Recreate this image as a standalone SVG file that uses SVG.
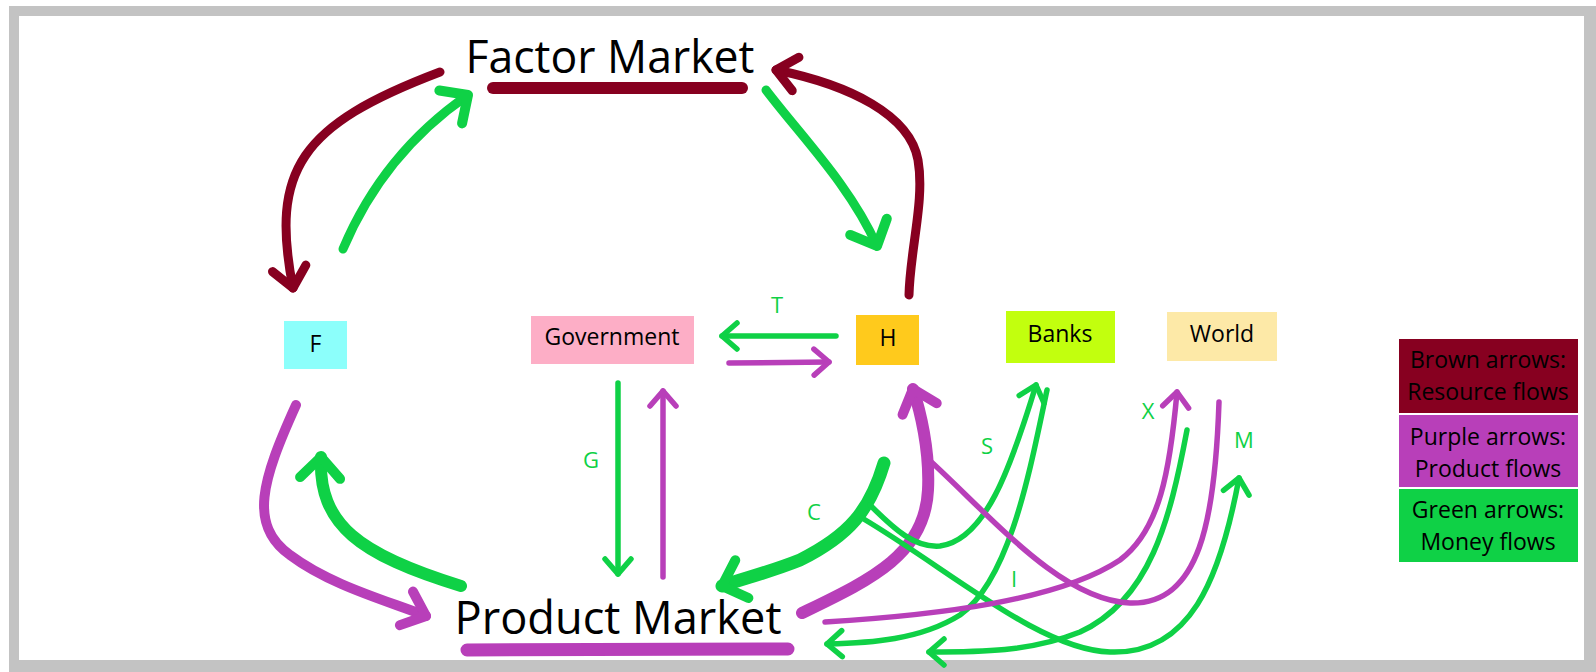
<svg xmlns="http://www.w3.org/2000/svg" width="1596" height="672" viewBox="0 0 1596 672">
<style>
.lbl{font-family:"Open Sans","Noto Sans","Liberation Sans",sans-serif;fill:#000;text-anchor:middle}
.box{font-size:23px}
.ltr{font-family:"Open Sans","Noto Sans","Liberation Sans",sans-serif;font-size:22px;fill:#0fd146;text-anchor:middle}
.leg{font-size:23px}
.c{fill:none;stroke-linecap:round;stroke-linejoin:round}
.br{stroke:#870020}
.gr{stroke:#0fd146}
.pu{stroke:#b83fb9}
.thin{stroke-width:5.5}
</style>
<defs>
<marker id="hB" markerUnits="userSpaceOnUse" viewBox="-30 -30 40 60" markerWidth="40" markerHeight="60" refX="0" refY="0" orient="auto" overflow="visible"><path d="M-20,-17 L0,0 L-20,17" fill="none" stroke="#870020" stroke-width="9" stroke-linecap="round" stroke-linejoin="round"/></marker>
<marker id="hG" markerUnits="userSpaceOnUse" viewBox="-30 -30 40 60" markerWidth="40" markerHeight="60" refX="0" refY="0" orient="auto" overflow="visible"><path d="M-21,-20 L0,0 L-21,20" fill="none" stroke="#0fd146" stroke-width="10" stroke-linecap="round" stroke-linejoin="round"/></marker>
<marker id="hP" markerUnits="userSpaceOnUse" viewBox="-30 -30 40 60" markerWidth="40" markerHeight="60" refX="0" refY="0" orient="auto" overflow="visible"><path d="M-21,-18 L0,0 L-21,18" fill="none" stroke="#b83fb9" stroke-width="10" stroke-linecap="round" stroke-linejoin="round"/></marker>
<marker id="hg" markerUnits="userSpaceOnUse" viewBox="-30 -30 40 60" markerWidth="40" markerHeight="60" refX="0" refY="0" orient="auto" overflow="visible"><path d="M-15,-13 L0,0 L-15,13" fill="none" stroke="#0fd146" stroke-width="5.5" stroke-linecap="round" stroke-linejoin="round"/></marker>
<marker id="hp" markerUnits="userSpaceOnUse" viewBox="-30 -30 40 60" markerWidth="40" markerHeight="60" refX="0" refY="0" orient="auto" overflow="visible"><path d="M-15,-13 L0,0 L-15,13" fill="none" stroke="#b83fb9" stroke-width="5.5" stroke-linecap="round" stroke-linejoin="round"/></marker>
</defs>
<rect x="9" y="6" width="1600" height="680" fill="#c3c3c3"/>
<rect x="19" y="16" width="1565" height="644" fill="#ffffff"/>

<g id="factor-market">
<line x1="493" y1="88" x2="742" y2="88" stroke="#870020" stroke-width="12" stroke-linecap="round"/>
<text class="lbl" x="610" y="73" font-size="46" textLength="289" lengthAdjust="spacingAndGlyphs">Factor Market</text>
</g>
<g id="product-market">
<line x1="467" y1="650" x2="788" y2="649" stroke="#b83fb9" stroke-width="13" stroke-linecap="round"/>
<text class="lbl" x="618" y="634" font-size="46" textLength="327" lengthAdjust="spacingAndGlyphs">Product Market</text>
</g>
<g id="node-f">
<rect x="284" y="321" width="63" height="48" fill="#8cfffb"/>
<text class="lbl box" x="315.5" y="352">F</text>
</g>
<g id="node-government">
<rect x="531" y="316" width="163" height="48" fill="#fdaec6"/>
<text class="lbl box" x="612" y="345">Government</text>
</g>
<g id="node-h">
<rect x="856" y="315" width="63" height="50" fill="#ffca1c"/>
<text class="lbl box" x="888" y="346">H</text>
</g>
<g id="node-banks">
<rect x="1006" y="311" width="109" height="52" fill="#c2ff0e"/>
<text class="lbl box" x="1060" y="342">Banks</text>
</g>
<g id="node-world">
<rect x="1167" y="312" width="110" height="49" fill="#fde9a7"/>
<text class="lbl box" x="1222" y="342">World</text>
</g>

<g id="connectors">
<path class="c br" stroke-width="9" d="M440,72 C300,125 270,170 293,288" marker-end="url(#hB)"/>
<path class="c br" stroke-width="9" d="M909,295 C910,250 925,200 918,160 C910,115 850,85 776,70" marker-end="url(#hB)"/>
<path class="c gr" stroke-width="9" d="M343,249 C370,185 410,135 468,95" marker-end="url(#hG)"/>
<path class="c gr" stroke-width="9" d="M766,90 C800,135 850,185 877,246" marker-end="url(#hG)"/>
<path class="c gr" stroke-width="12" d="M461,586 C360,555 318,525 321,457" marker-end="url(#hG)"/>
<path class="c gr" stroke-width="13" d="M884,463 C870,510 850,535 800,560 C770,572 745,578 722,586" marker-end="url(#hG)"/>
<path class="c pu" stroke-width="10" d="M296,405 C262,480 248,525 290,555 C330,585 385,600 426,616" marker-end="url(#hP)"/>
<path class="c pu" stroke-width="12" d="M802,613 C870,580 925,555 928,490 C930,450 920,410 913,389" marker-end="url(#hP)"/>
<path class="c gr thin" d="M618,383 L618,574" marker-end="url(#hg)"/>
<path class="c gr thin" d="M836,336 L722,336" marker-end="url(#hg)"/>
<path class="c gr thin" d="M870,505 C895,530 915,548 940,546 C985,540 1010,470 1036,385" marker-end="url(#hg)"/>
<path class="c gr thin" d="M862,518 C950,570 1040,650 1110,652 C1190,655 1220,580 1239,478" marker-end="url(#hg)"/>
<path class="c gr thin" d="M1047,390 C1030,470 1010,580 960,615 C920,640 870,643 827,644" marker-end="url(#hg)"/>
<path class="c gr thin" d="M1187,430 C1170,520 1150,600 1080,632 C1030,652 980,652 929,652" marker-end="url(#hg)"/>
<path class="c pu thin" d="M663,577 L663,391" marker-end="url(#hp)"/>
<path class="c pu thin" d="M729,363 L829,362" marker-end="url(#hp)"/>
<path class="c pu thin" d="M825,622 C940,615 1060,600 1120,560 C1160,530 1170,470 1177,392" marker-end="url(#hp)"/>
<path class="c pu thin" d="M1219,402 C1215,520 1200,605 1130,603 C1060,600 990,515 927,458"/>
</g>

<g id="flow-labels">
<text class="ltr" x="777" y="313">T</text>
<text class="ltr" x="591" y="468">G</text>
<text class="ltr" x="814" y="520">C</text>
<text class="ltr" x="987" y="454">S</text>
<text class="ltr" x="1014" y="587">I</text>
<text class="ltr" x="1148" y="419">X</text>
<text class="ltr" x="1244" y="448">M</text>
</g>

<g id="legend">
<rect x="1399" y="339" width="179" height="74" fill="#870020"/>
<text class="lbl leg" x="1488" y="368">Brown arrows:</text>
<text class="lbl leg" x="1488" y="400">Resource flows</text>
<rect x="1399" y="415" width="179" height="72" fill="#b83fb9"/>
<text class="lbl leg" x="1488" y="445">Purple arrows:</text>
<text class="lbl leg" x="1488" y="477">Product flows</text>
<rect x="1399" y="489" width="179" height="73" fill="#0fd146"/>
<text class="lbl leg" x="1488" y="518">Green arrows:</text>
<text class="lbl leg" x="1488" y="550">Money flows</text>
</g>
</svg>
